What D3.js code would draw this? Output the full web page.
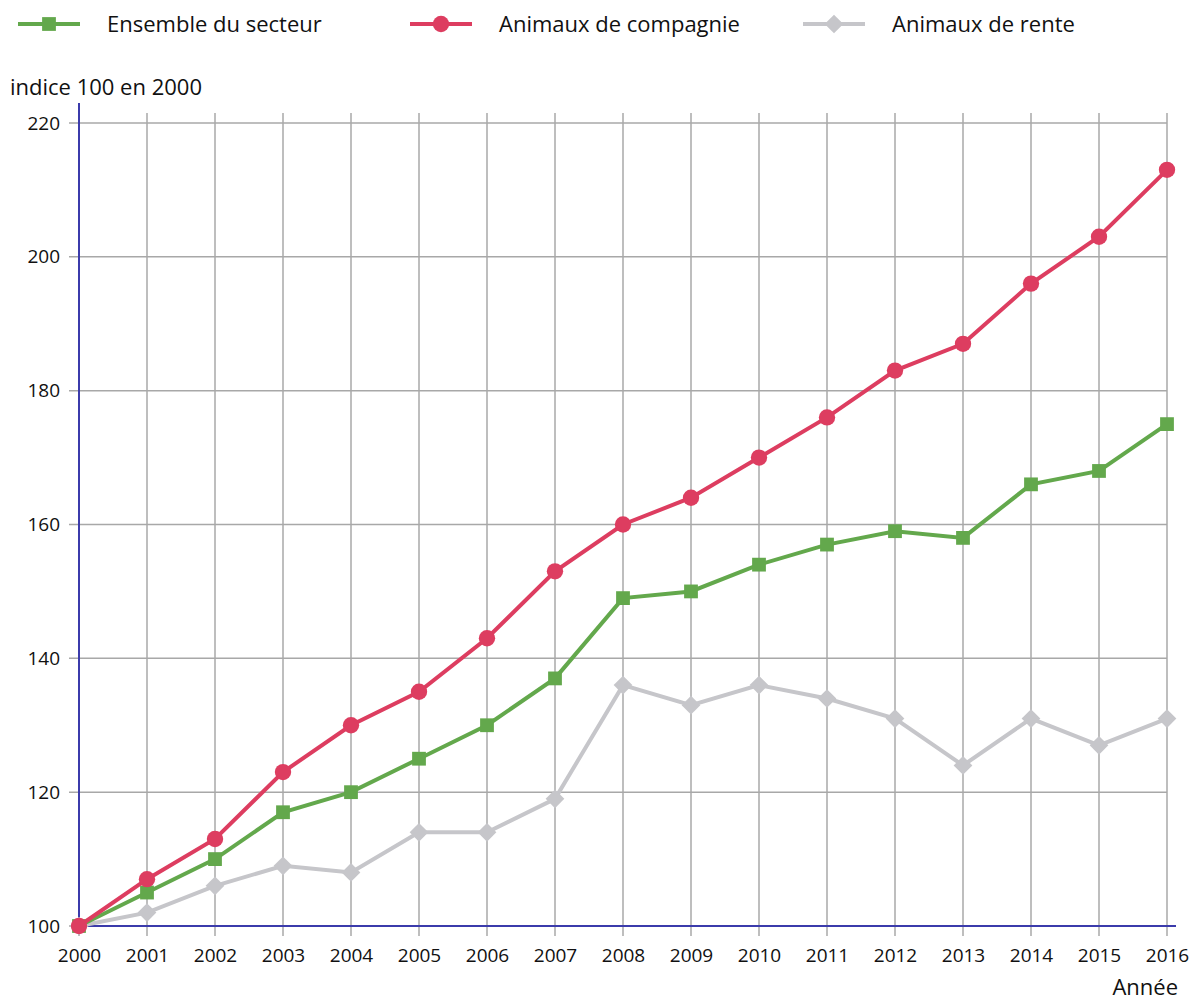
<!DOCTYPE html>
<meta charset="utf-8">
<style>
body { margin: 0; background: #fff; }
text { font-family: "Open Sans", sans-serif; fill: #111; }
.tick text { font-size: 19px; }
.grid line { stroke: #a8a8a8; stroke-width: 1.5px; }
.line { fill: none; stroke-width: 4px; }
</style>
<svg width="1198" height="1001"></svg>
<script src="https://d3js.org/d3.v7.min.js"></script>
<script>

var years = [2000, 2001, 2002, 2003, 2004, 2005, 2006, 2007, 2008, 2009, 2010, 2011, 2012, 2013, 2014, 2015, 2016];
var ensemble = [100, 105, 110, 117, 120, 125, 130, 137, 149, 150, 154, 157, 159, 158, 166, 168, 175];
var compagnie = [100, 107, 113, 123, 130, 135, 143, 153, 160, 164, 170, 176, 183, 187, 196, 203, 213];
var rente = [100, 102, 106, 109, 108, 114, 114, 119, 136, 133, 136, 134, 131, 124, 131, 127, 131];
var yTicks = [100, 120, 140, 160, 180, 200, 220];

var series = [
  {name: "Ensemble du secteur", values: ensemble, color: "#63a84c", shape: d3.symbolSquare, size: 190, rot: 0},
  {name: "Animaux de compagnie", values: compagnie, color: "#dd3d60", shape: d3.symbolCircle, size: 210, rot: 0},
  {name: "Animaux de rente", values: rente, color: "#c6c6ca", shape: d3.symbolSquare, size: 175, rot: 45}
];

var svg = d3.select("svg");
var margin = {top: 123, left: 79, right: 31, bottom: 75};
var width = 1198 - margin.left - margin.right,
    height = 1001 - margin.top - margin.bottom;

var x = d3.scaleLinear().domain([2000, 2016]).range([0, width]);
var y = d3.scaleLinear().domain([100, 220]).range([height, 0]);

var g = svg.append("g").attr("transform", "translate(" + margin.left + "," + margin.top + ")");

// grid
g.append("g").attr("class", "grid")
  .selectAll("line").data(years).enter().append("line")
    .attr("x1", function(d) { return x(d); }).attr("x2", function(d) { return x(d); })
    .attr("y1", -10).attr("y2", height + 10);
g.append("g").attr("class", "grid")
  .selectAll("line").data(yTicks).enter().append("line")
    .attr("x1", -10).attr("x2", width)
    .attr("y1", function(d) { return y(d); }).attr("y2", function(d) { return y(d); });

// axes
var xAxis = g.append("g")
    .attr("transform", "translate(0," + height + ")")
    .call(d3.axisBottom(x).tickValues(years).tickFormat(d3.format("d")).tickSize(0).tickPadding(23));
xAxis.select(".domain").remove();

var yAxis = g.append("g")
    .call(d3.axisLeft(y).tickValues(yTicks).tickSize(0).tickPadding(19));
yAxis.select(".domain").remove();

g.append("line").attr("x1", 0).attr("x2", 0).attr("y1", -20).attr("y2", height)
  .attr("stroke", "#3b3bab").attr("stroke-width", 2);
g.append("line").attr("x1", 0).attr("x2", width + 9).attr("y1", height).attr("y2", height)
  .attr("stroke", "#3b3bab").attr("stroke-width", 2);

svg.append("text").attr("x", 10).attr("y", 95).style("font-size", "22px").text("indice 100 en 2000");
svg.append("text").attr("x", 1178).attr("y", 995).attr("text-anchor", "end")
  .style("font-size", "22px").text("Année");

// lines (grey first so the colours sit on top)
var line = d3.line()
  .x(function(d, i) { return x(years[i]); })
  .y(function(d) { return y(d); });

var order = [series[2], series[0], series[1]];
order.forEach(function(s) {
  g.append("path").attr("class", "line").attr("stroke", s.color).attr("d", line(s.values));
  g.selectAll(null).data(s.values).enter().append("path")
    .attr("transform", function(d, i) { return "translate(" + x(years[i]) + "," + y(d) + ") rotate(" + s.rot + ")"; })
    .attr("d", d3.symbol().type(s.shape).size(s.size))
    .attr("fill", s.color);
});

// legend
var legendX = [18, 410, 803];
var lg = svg.selectAll(".legend").data(series).enter().append("g")
  .attr("class", "legend")
  .attr("transform", function(d, i) { return "translate(" + legendX[i] + ",24)"; });
lg.append("line").attr("x1", 0).attr("x2", 62).attr("stroke", function(d) { return d.color; }).attr("stroke-width", 4);
lg.append("path")
  .attr("transform", function(d) { return "translate(31,0) rotate(" + d.rot + ")"; })
  .attr("d", function(d) { return d3.symbol().type(d.shape).size(d.size)(); })
  .attr("fill", function(d) { return d.color; });
lg.append("text").attr("x", 89).attr("dy", "0.35em").style("font-size", "22px")
  .text(function(d) { return d.name; });

</script>
